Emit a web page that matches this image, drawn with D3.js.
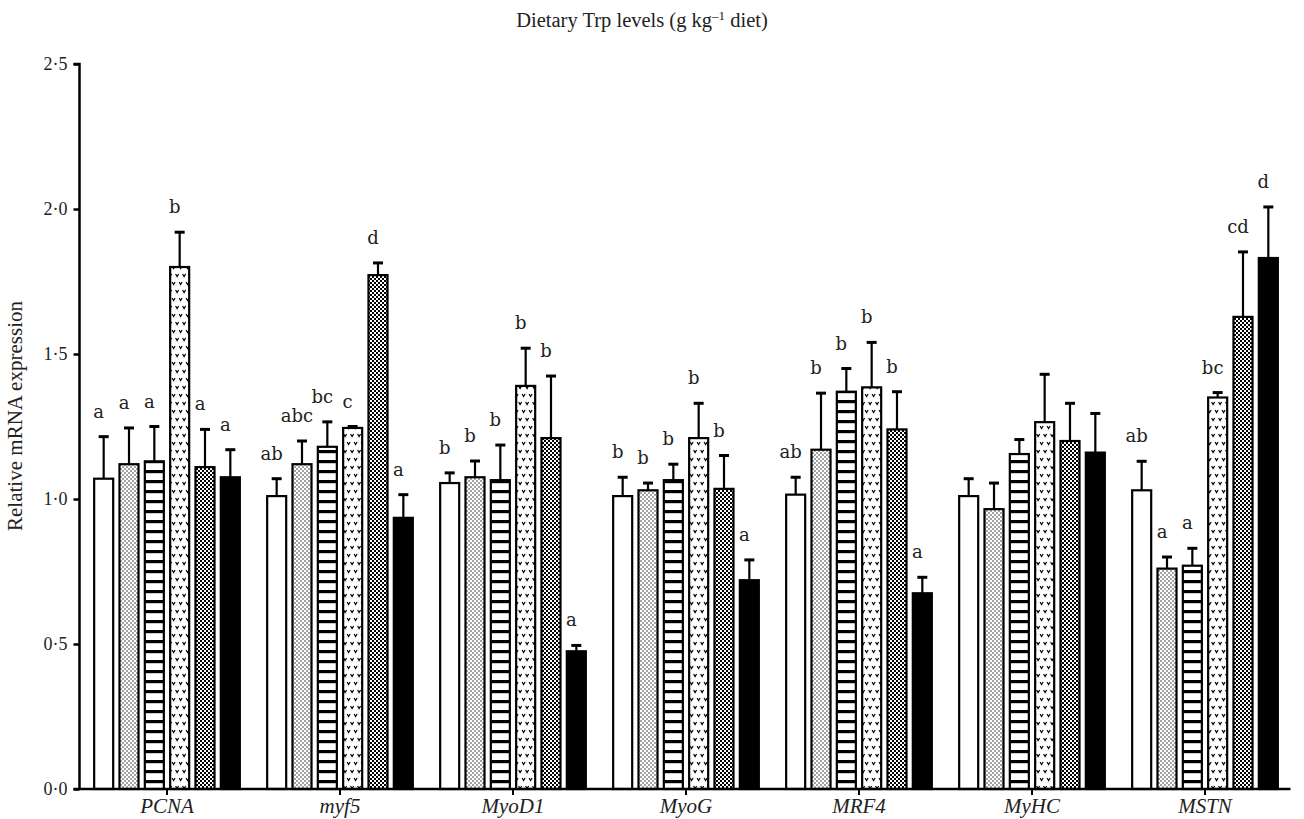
<!DOCTYPE html>
<html>
<head>
<meta charset="utf-8">
<script src="https://cdn.jsdelivr.net/npm/d3@7"></script>
<style>
  html, body { margin: 0; padding: 0; background: #fff; }
  svg { display: block; }
</style>
</head>
<body>
<svg id="chart" width="1304" height="819"></svg>
<script>
// ---------- data ----------
const genes = ["PCNA", "myf5", "MyoD1", "MyoG", "MRF4", "MyHC", "MSTN"];
const seriesNames = ["Trp 1", "Trp 2", "Trp 3", "Trp 4", "Trp 5", "Trp 6"];

// mean relative expression, one array per dietary Trp level
const mean1 = [1.07, 1.01, 1.055, 1.01, 1.015, 1.01, 1.03];
const mean2 = [1.12, 1.12, 1.075, 1.03, 1.17, 0.965, 0.76];
const mean3 = [1.13, 1.18, 1.065, 1.065, 1.37, 1.155, 0.77];
const mean4 = [1.80, 1.245, 1.39, 1.21, 1.385, 1.265, 1.35];
const mean5 = [1.11, 1.772, 1.21, 1.035, 1.24, 1.20, 1.628];
const mean6 = [1.075, 0.935, 0.475, 0.72, 0.675, 1.16, 1.831];

// standard errors (upper bars)
const se1 = [0.145, 0.06, 0.035, 0.065, 0.06, 0.06, 0.10];
const se2 = [0.125, 0.08, 0.056, 0.025, 0.195, 0.09, 0.04];
const se3 = [0.12, 0.086, 0.121, 0.055, 0.08, 0.05, 0.06];
const se4 = [0.12, 0.005, 0.13, 0.12, 0.155, 0.165, 0.017];
const se5 = [0.13, 0.042, 0.214, 0.115, 0.13, 0.13, 0.224];
const se6 = [0.095, 0.08, 0.02, 0.07, 0.055, 0.135, 0.176];

// significance letters
const let1 = ["a", "ab", "b", "b", "ab", "", "ab"];
const let2 = ["a", "abc", "b", "b", "b", "", "a"];
const let3 = ["a", "bc", "b", "b", "b", "", "a"];
const let4 = ["b", "c", "b", "b", "b", "", "bc"];
const let5 = ["a", "d", "b", "b", "b", "", "cd"];
const let6 = ["a", "a", "a", "a", "a", "", "d"];

const yTicks = [0, 0.5, 1.0, 1.5, 2.0, 2.5];
const yTickLabels = ["0·0", "0·5", "1·0", "1·5", "2·0", "2·5"];

const means = [mean1, mean2, mean3, mean4, mean5, mean6];
const ses = [se1, se2, se3, se4, se5, se6];
const lets = [let1, let2, let3, let4, let5, let6];
const fills = ["#ffffff", "url(#pDots)", "url(#pStripes)", "url(#pVees)", "url(#pChecker)", "#000000"];

const rows = [];
genes.forEach((gname, gi) => {
  seriesNames.forEach((s, si) => {
    rows.push({ gene: gname, series: si, mean: means[si][gi], se: ses[si][gi], letter: lets[si][gi] });
  });
});

// ---------- layout ----------
const svg = d3.select("#chart");
const mLeft = 80.5, mRight = 1291.5, mTop = 64, mBottom = 789;

const y = d3.scaleLinear().domain([0, 2.5]).range([mBottom, mTop]);
const x0 = d3.scaleBand().domain(genes).range([mLeft, mRight]).paddingInner(0).paddingOuter(0);
const x1 = d3.scaleBand().domain(d3.range(6)).range([0, x0.bandwidth()]).paddingInner(0.17).paddingOuter(0.5);

// ---------- patterns ----------
const defs = svg.append("defs");
const pd = defs.append("pattern").attr("id", "pDots").attr("patternUnits", "userSpaceOnUse").attr("width", 4).attr("height", 4);
pd.append("rect").attr("width", 4).attr("height", 4).attr("fill", "#fff");
pd.append("rect").attr("x", 0.4).attr("y", 0.4).attr("width", 1.2).attr("height", 1.2).attr("fill", "#000");
pd.append("rect").attr("x", 2.4).attr("y", 2.4).attr("width", 1.2).attr("height", 1.2).attr("fill", "#000");

const ps = defs.append("pattern").attr("id", "pStripes").attr("patternUnits", "userSpaceOnUse").attr("width", 10).attr("height", 10);
ps.append("rect").attr("width", 10).attr("height", 10).attr("fill", "#fff");
ps.append("rect").attr("y", 0).attr("width", 10).attr("height", 3.2).attr("fill", "#000");

const pv = defs.append("pattern").attr("id", "pVees").attr("patternUnits", "userSpaceOnUse").attr("width", 7).attr("height", 16);
pv.append("rect").attr("width", 7).attr("height", 16).attr("fill", "#fff");
pv.append("path").attr("d", "M0.6,2 L2.1,4.6 L3.6,2 M4.1,10 L5.6,12.6 L7.1,10 M-2.9,10 L-1.4,12.6 L0.1,10")
  .attr("fill", "none").attr("stroke", "#000").attr("stroke-width", 1.2);

const pc = defs.append("pattern").attr("id", "pChecker").attr("patternUnits", "userSpaceOnUse").attr("width", 4).attr("height", 4);
pc.append("rect").attr("width", 4).attr("height", 4).attr("fill", "#fff");
pc.append("rect").attr("x", 0).attr("y", 0).attr("width", 2).attr("height", 2).attr("fill", "#000");
pc.append("rect").attr("x", 2).attr("y", 2).attr("width", 2).attr("height", 2).attr("fill", "#000");

// ---------- bars ----------
const plot = svg.append("g");
const bw = x1.bandwidth();

plot.selectAll("rect.bar").data(rows).join("rect")
  .attr("class", "bar")
  .attr("x", d => x0(d.gene) + x1(d.series) + 1)
  .attr("y", d => y(d.mean))
  .attr("width", bw - 2)
  .attr("height", d => y(0) - y(d.mean))
  .attr("fill", d => fills[d.series])
  .attr("stroke", "#000")
  .attr("stroke-width", 2.2);

// error bars
const cx = d => x0(d.gene) + x1(d.series) + bw / 2;
plot.selectAll("line.err").data(rows).join("line")
  .attr("class", "err")
  .attr("x1", cx).attr("x2", cx)
  .attr("y1", d => y(d.mean)).attr("y2", d => y(d.mean + d.se))
  .attr("stroke", "#000").attr("stroke-width", 2.2);
plot.selectAll("line.cap").data(rows).join("line")
  .attr("class", "cap")
  .attr("x1", d => cx(d) - 5).attr("x2", d => cx(d) + 5)
  .attr("y1", d => y(d.mean + d.se)).attr("y2", d => y(d.mean + d.se))
  .attr("stroke", "#000").attr("stroke-width", 3);

// letters
plot.selectAll("text.sig").data(rows.filter(d => d.letter)).join("text")
  .attr("class", "sig")
  .attr("x", d => cx(d) - 5)
  .attr("y", d => y(d.mean + d.se) - 19)
  .attr("text-anchor", "middle")
  .attr("font-family", "'DejaVu Serif', serif")
  .attr("font-size", 18)
  .attr("fill", "#222")
  .text(d => d.letter);

// ---------- axes ----------
const yAxis = d3.axisLeft(y).tickValues(yTicks).tickSize(6).tickPadding(6)
  .tickFormat((d, i) => yTickLabels[i]);
const ya = svg.append("g").attr("transform", `translate(${mLeft - 1},0)`).call(yAxis);
ya.select(".domain").attr("stroke-width", 2.5).attr("d", `M-6,${mTop}H0V${mBottom}`);
ya.selectAll(".tick line").attr("stroke-width", 2.5);
ya.selectAll(".tick text").attr("font-family", "'Liberation Serif', serif").attr("font-size", 18).attr("fill", "#222");

const xAxis = d3.axisBottom(x0).tickSize(6).tickPadding(3).tickSizeOuter(0);
const xa = svg.append("g").attr("transform", `translate(0,${mBottom})`).call(xAxis);
xa.select(".domain").attr("stroke-width", 2.5).attr("d", `M${mLeft - 7},0H${mRight - 1}`);
xa.selectAll(".tick line").attr("stroke-width", 2);
xa.selectAll(".tick text").attr("font-family", "'Liberation Serif', serif").attr("font-style", "italic")
  .attr("font-size", 21).attr("fill", "#222");

// ---------- titles ----------
const t = svg.append("text").attr("x", 642).attr("y", 27).attr("text-anchor", "middle")
  .attr("font-family", "'Liberation Serif', serif").attr("font-size", 20.5).attr("fill", "#222");
t.append("tspan").text("Dietary Trp levels (g kg");
t.append("tspan").attr("dy", -7).attr("font-size", 13).text("–1");
t.append("tspan").attr("dy", 7).text(" diet)");

svg.append("text")
  .attr("transform", "translate(22,416) rotate(-90)")
  .attr("text-anchor", "middle")
  .attr("font-family", "'Liberation Serif', serif").attr("font-size", 20).attr("fill", "#222")
  .attr("textLength", 230).attr("lengthAdjust", "spacingAndGlyphs")
  .text("Relative mRNA expression");
</script>
</body>
</html>
